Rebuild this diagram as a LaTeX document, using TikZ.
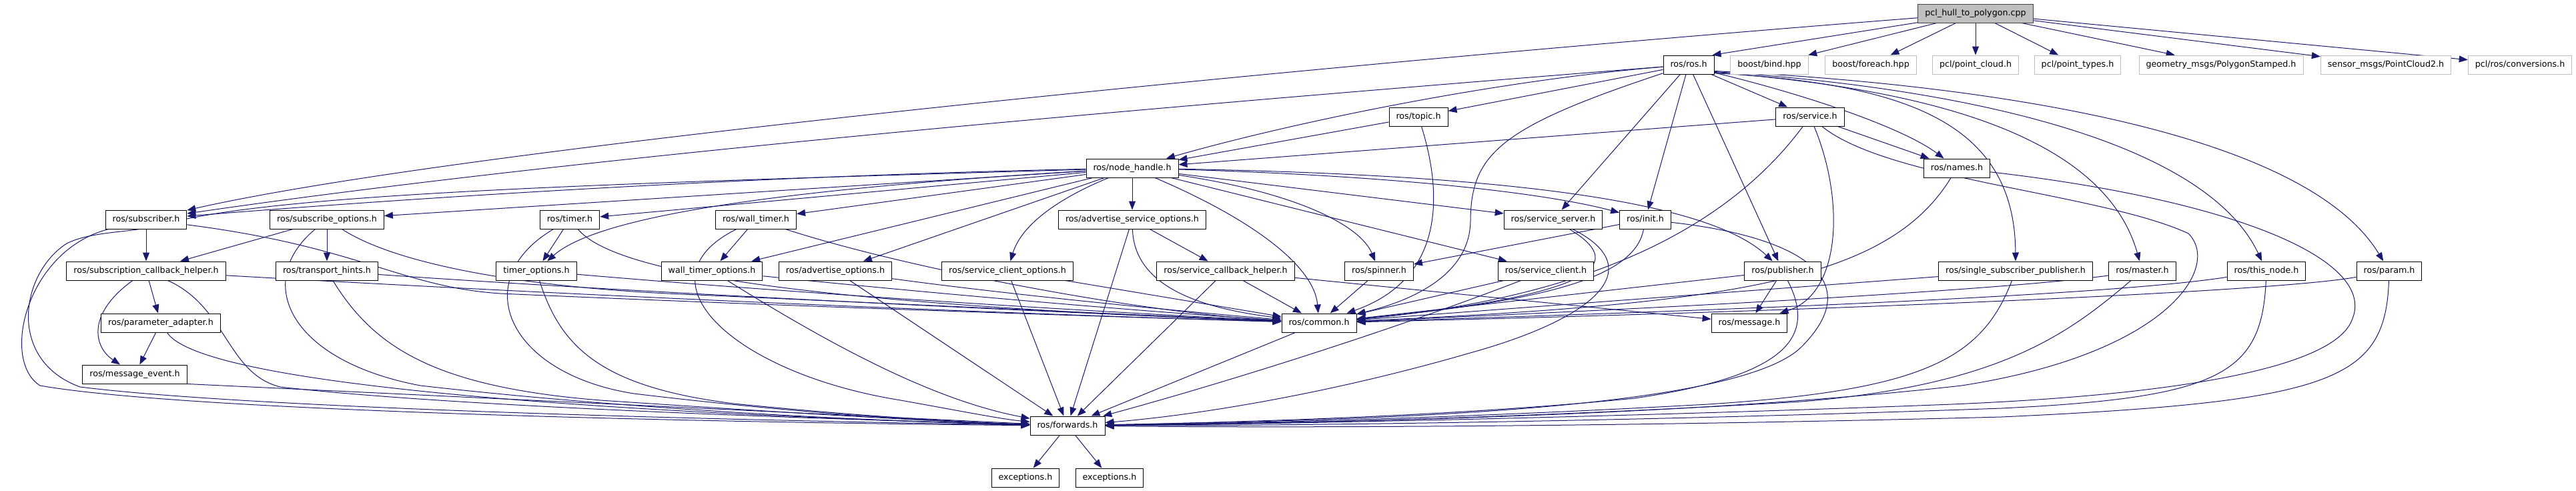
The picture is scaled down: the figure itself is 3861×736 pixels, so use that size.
\documentclass[tikz,border=0pt]{standalone}
\usepackage{fontspec}
\setmainfont{DejaVu Sans}
\usetikzlibrary{arrows.meta}
\definecolor{edgec}{HTML}{191970}
\definecolor{nodegray}{HTML}{BFBFBF}
\pgfdeclarelayer{bg}
\pgfdeclarelayer{edges}
\pgfsetlayers{bg,edges,main}
\begin{document}
\begin{tikzpicture}[x=1pt,y=-1pt,
  box/.style={draw=black, line width=1pt, fill=white, minimum height=28pt, inner xsep=10.5pt, inner ysep=0pt, text height=9.6pt, text depth=2.6pt, font=\fontsize{12.7pt}{15pt}\selectfont},
  extbox/.style={box, draw=nodegray},
  mainbox/.style={box, fill=nodegray, draw=black!75},
  edg/.style={draw=edgec, line width=1pt, -{Triangle[length=13pt,width=10pt]}}]
\begin{pgfonlayer}{bg}
\fill[white] (0,0) rectangle (3861,736);
\end{pgfonlayer}
\useasboundingbox (0,0) rectangle (3861,736);
% top row
\node[mainbox] (P) at (2961,20) {pcl\_hull\_to\_polygon.cpp};
\node[box] (R) at (2531,97) {ros/ros.h};
\node[extbox] (BB) at (2652,97) {boost/bind.hpp};
\node[extbox] (BF) at (2804,97) {boost/foreach.hpp};
\node[extbox] (PC) at (2961,97) {pcl/point\_cloud.h};
\node[extbox] (PT) at (3114,97) {pcl/point\_types.h};
\node[extbox] (GM) at (3329,97) {geometry\_msgs/PolygonStamped.h};
\node[extbox] (SM) at (3576,97) {sensor\_msgs/PointCloud2.h};
\node[extbox] (CV) at (3777,97) {pcl/ros/conversions.h};
% y=175
\node[box] (TOP) at (2126,175) {ros/topic.h};
\node[box] (SRV) at (2713,175) {ros/service.h};
% y=252
\node[box] (NH) at (1697,252) {ros/node\_handle.h};
\node[box] (NM) at (2933,252) {ros/names.h};
% y=329
\node[box] (SUB) at (219,329) {ros/subscriber.h};
\node[box] (SO) at (490,329) {ros/subscribe\_options.h};
\node[box] (TI) at (854,329) {ros/timer.h};
\node[box] (WT) at (1133,329) {ros/wall\_timer.h};
\node[box] (ASO) at (1697,329) {ros/advertise\_service\_options.h};
\node[box] (SS) at (2328,329) {ros/service\_server.h};
\node[box] (IN) at (2466,329) {ros/init.h};
% y=406
\node[box] (SCH) at (219,406) {ros/subscription\_callback\_helper.h};
\node[box] (TH) at (490,406) {ros/transport\_hints.h};
\node[box] (TO) at (804,406) {timer\_options.h};
\node[box] (WTO) at (1067,406) {wall\_timer\_options.h};
\node[box] (AO) at (1252,406) {ros/advertise\_options.h};
\node[box] (SCO) at (1510,406) {ros/service\_client\_options.h};
\node[box] (SCBH) at (1837,406) {ros/service\_callback\_helper.h};
\node[box] (SP) at (2067,406) {ros/spinner.h};
\node[box] (SC) at (2317,406) {ros/service\_client.h};
\node[box] (PU) at (2672,406) {ros/publisher.h};
\node[box] (SSP) at (3021,406) {ros/single\_subscriber\_publisher.h};
\node[box] (MA) at (3211,406) {ros/master.h};
\node[box] (TN) at (3397,406) {ros/this\_node.h};
\node[box] (PR) at (3581,406) {ros/param.h};
% y=484
\node[box] (PA) at (241,484) {ros/parameter\_adapter.h};
\node[box] (CM) at (1977,484) {ros/common.h};
\node[box] (MSG) at (2622,484) {ros/message.h};
% lower
\node[box] (ME) at (202,561) {ros/message\_event.h};
\node[box] (FW) at (1600,638) {ros/forwards.h};
\node[box] (EX1) at (1537,716) {exceptions.h};
\node[box] (EX2) at (1663,716) {exceptions.h};

\begin{pgfonlayer}{edges}
% pcl
\draw[edg] (P) -- ([shift={(-3,0)}]R.north east);
\draw[edg] (P) -- (BB);
\draw[edg] (P) -- (BF);
\draw[edg] (P) -- (PC);
\draw[edg] (P) -- (PT);
\draw[edg] (P) -- (GM);
\draw[edg] (P) -- (SM);
\draw[edg] (P) -- (CV);
\draw[edg] (P) .. controls (2000,95) and (700,220) .. (SUB);
% ros.h
\draw[edg] (R) .. controls (1800,155) and (900,230) .. (SUB);
\draw[edg] (R) .. controls (2250,120) and (1950,180) .. (NH);
\draw[edg] (R) -- (TOP);
\draw[edg] (R) -- (SRV);
\draw[edg] ([shift={(-2,-3)}]R.south east) .. controls (2700,140) and (2850,190) .. (NM);
\draw[edg] (R) .. controls (2250,190) and (2205,230) .. (2204,330) .. controls (2204,410) and (2120,450) .. (CM);
\draw[edg] (R) -- (SS);
\draw[edg] (R) -- (IN);
\draw[edg] (R) -- (PU);
\draw[edg] ([shift={(-1,-2)}]R.south east) .. controls (2850,125) and (3020,180) .. (SSP);
\draw[edg] ([shift={(0,-3)}]R.south east) .. controls (2850,130) and (3150,190) .. (MA);
\draw[edg] ([shift={(0,-4)}]R.south east) .. controls (2900,128) and (3300,200) .. (TN);
\draw[edg] ([shift={(0,-5)}]R.south east) .. controls (2950,125) and (3450,190) .. (PR);
% topic
\draw[edg] (TOP) -- (NH);
\draw[edg] (TOP) .. controls (2165,300) and (2160,420) .. (CM);
% service
\draw[edg] (SRV) -- (NH);
\draw[edg] (SRV) -- (NM);
\draw[edg] (SRV) .. controls (2620,300) and (2450,440) .. (CM);
\draw[edg] (SRV) .. controls (2765,300) and (2760,440) .. (MSG);
\draw[edg] (SRV) .. controls (2830,270) and (3150,290) .. (3280,350) .. controls (3330,400) and (3250,530) .. (2940,578) .. controls (2500,628) and (1900,634) .. (FW);
% names
\draw[edg] (NM) .. controls (2830,420) and (2600,455) .. (CM);
\draw[edg] (NM) .. controls (3350,300) and (3565,390) .. (3525,480) .. controls (3500,545) and (3300,592) .. (2900,607) .. controls (2400,626) and (1900,636) .. (FW);
% node_handle
\draw[edg] (NH) .. controls (1200,262) and (700,290) .. (SUB);
\draw[edg] (NH) -- (SO);
\draw[edg] (NH) -- (TI);
\draw[edg] (NH) -- (WT);
\draw[edg] (NH) .. controls (1200,282) and (900,320) .. (TO);
\draw[edg] (NH) -- (WTO);
\draw[edg] (NH) -- (AO);
\draw[edg] (NH) .. controls (1580,300) and (1530,340) .. (SCO);
\draw[edg] (NH) -- (ASO);
\draw[edg] (NH) .. controls (1880,330) and (1970,400) .. (CM);
\draw[edg] (NH) .. controls (1950,290) and (2040,340) .. (SP);
\draw[edg] (NH) -- (SC);
\draw[edg] (NH) -- (SS);
\draw[edg] (NH) .. controls (2050,262) and (2300,285) .. (IN);
\draw[edg] (NH) .. controls (2250,262) and (2560,300) .. (PU);
\draw[edg] (NH) .. controls (900,275) and (420,290) .. (250,335) .. controls (200,350) and (140,345) .. (100,365) .. controls (30,410) and (10,540) .. (120,580) .. controls (400,615) and (1200,632) .. (FW);
% subscriber
\draw[edg] (SUB) -- (SCH);
\draw[edg] (SUB) .. controls (540,370) and (600,430) .. (750,440) .. controls (1200,460) and (1700,476) .. (CM);
\draw[edg] (SUB) .. controls (40,375) and (0,540) .. (60,578) .. controls (300,620) and (1200,635) .. (FW);
% subscription_callback_helper
\draw[edg] (SCH) -- (PA);
\draw[edg] (SCH) .. controls (130,470) and (140,520) .. (ME);
\draw[edg] (SCH) .. controls (340,460) and (340,560) .. (420,580) .. controls (700,612) and (1300,630) .. (FW);
\draw[edg] (SCH) .. controls (900,445) and (1500,470) .. (CM);
% parameter_adapter, message_event
\draw[edg] (PA) -- (ME);
\draw[edg] (PA) .. controls (310,590) and (1100,625) .. (FW);
\draw[edg] (ME.south east) -- (FW);
% subscribe_options
\draw[edg] (SO) -- (SCH);
\draw[edg] (SO) -- (TH);
\draw[edg] (SO) .. controls (600,400) and (800,430) .. (1000,440) .. controls (1400,458) and (1750,474) .. (CM);
\draw[edg] (SO) .. controls (380,420) and (430,540) .. (630,578) .. controls (1000,620) and (1400,634) .. (FW);
% transport_hints
\draw[edg] (TH) .. controls (900,435) and (1500,465) .. (CM);
\draw[edg] (TH) .. controls (560,520) and (650,580) .. (900,600) .. controls (1200,620) and (1400,632) .. (FW);
% timer
\draw[edg] (TI) -- (TO);
\draw[edg] (TI) .. controls (930,420) and (1300,458) .. (CM);
\draw[edg] (TI) .. controls (700,420) and (760,560) .. (950,590) .. controls (1200,620) and (1400,632) .. (FW);
% timer_options
\draw[edg] (TO) .. controls (1200,440) and (1600,465) .. (CM);
\draw[edg] (TO) .. controls (840,520) and (900,580) .. (1100,605) .. controls (1300,625) and (1450,633) .. (FW);
% wall_timer
\draw[edg] (WT) -- (WTO);
\draw[edg] (WT) .. controls (1350,400) and (1700,468) .. (CM);
\draw[edg] (WT) .. controls (950,420) and (1100,560) .. (1350,600) .. controls (1450,618) and (1500,628) .. (FW);
% wall_timer_options
\draw[edg] (WTO) .. controls (1400,440) and (1700,466) .. (CM);
\draw[edg] (WTO) .. controls (1250,520) and (1400,600) .. (FW);
% advertise_options
\draw[edg] (AO) .. controls (1500,440) and (1750,465) .. (CM);
\draw[edg] (AO) -- (FW);
% advertise_service_options
\draw[edg] (ASO) -- (SCBH);
\draw[edg] (ASO) -- (FW);
\draw[edg] (ASO) .. controls (1700,430) and (1800,462) .. (CM);
% service_client_options
\draw[edg] (SCO) -- (FW);
\draw[edg] (SCO) -- (CM);
% service_callback_helper
\draw[edg] (SCBH) -- (CM);
\draw[edg] (SCBH) -- (FW);
\draw[edg] (SCBH) -- (MSG);
% spinner
\draw[edg] (SP) -- (CM);
% service_client
\draw[edg] (SC) -- (CM);
\draw[edg] (SC) .. controls (2100,490) and (1850,570) .. (FW);
% service_server
\draw[edg] (SS) .. controls (2430,390) and (2420,440) .. (CM);
\draw[edg] (SS) .. controls (2470,400) and (2400,475) .. (2200,530) .. controls (2000,588) and (1800,622) .. (FW);
% init
\draw[edg] (IN) -- (SP);
\draw[edg] (IN) .. controls (2450,420) and (2300,452) .. (CM);
\draw[edg] (IN) .. controls (2700,355) and (2800,420) .. (2700,520) .. controls (2600,620) and (2000,630) .. (FW);
% publisher
\draw[edg] (PU) -- (MSG);
\draw[edg] (PU) -- (CM);
\draw[edg] (PU) .. controls (2720,500) and (2690,562) .. (2450,597) .. controls (2200,622) and (1900,632) .. (FW);
% single_subscriber_publisher
\draw[edg] (SSP) -- (CM);
\draw[edg] (SSP) .. controls (2970,540) and (2880,585) .. (2560,606) .. controls (2200,626) and (1900,634) .. (FW);
% master
\draw[edg] (MA) .. controls (3000,435) and (2500,462) .. (CM);
\draw[edg] (MA) .. controls (3100,500) and (3000,577) .. (2700,602) .. controls (2300,626) and (1900,636) .. (FW);
% this_node
\draw[edg] (TN) .. controls (3150,445) and (2500,468) .. (CM);
\draw[edg] (TN) .. controls (3390,560) and (3330,596) .. (3000,612) .. controls (2500,630) and (2000,638) .. (FW);
% param
\draw[edg] (PR) .. controls (3400,440) and (2600,470) .. (CM);
\draw[edg] (PR) .. controls (3575,570) and (3500,602) .. (3000,625) .. controls (2500,638) and (2000,642) .. (FW);
% common, forwards
\draw[edg] (CM) -- (FW);
\draw[edg] (FW) -- (EX1);
\draw[edg] (FW) -- (EX2);
\end{pgfonlayer}
\end{tikzpicture}
\end{document}
